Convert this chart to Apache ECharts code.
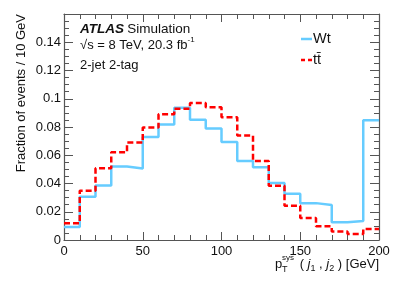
<!DOCTYPE html>
<html>
<head>
<meta charset="utf-8">
<script src="https://cdn.jsdelivr.net/npm/echarts@6/dist/echarts.min.js"></script>
<style>
html,body{margin:0;padding:0;background:#fff;}
#chart{width:399px;height:286px;}
</style>
</head>
<body>
<div id="chart"></div>
<script>
// Bin edges (GeV)
var binEdges = [0,10,20,30,40,50,60,70,80,90,100,110,120,130,140,150,160,170,180,190,200];
// Fraction of events per bin
var wtValues = [0.0092,0.0306,0.0386,0.0520,0.0506,0.0730,0.0817,0.0937,0.0852,0.0789,0.0694,0.0560,0.0515,0.0403,0.0327,0.0261,0.0247,0.0125,0.0134,0.0847];
var ttValues = [0.0119,0.0348,0.0508,0.0621,0.0690,0.0796,0.0890,0.0930,0.0970,0.0940,0.0869,0.0739,0.0560,0.0384,0.0242,0.0155,0.0097,0.0061,0.0042,0.0078];
var seriesNames = ['Wt', 't\u0074\u0304'];
var xTicks = [0,50,100,150,200];
var yTicks = [0,0.02,0.04,0.06,0.08,0.1,0.12,0.14];

function stepData(vals){
  var d = [];
  for (var i = 0; i < vals.length; i++) d.push([binEdges[i], vals[i]]);
  d.push([binEdges[binEdges.length-1], vals[vals.length-1]]);
  return d;
}

var FONT = 'Liberation Sans, Arial, Helvetica, sans-serif';
var axisCol = '#555';
var WT_COL = '#66ccff', TT_COL = '#ff0000';
var chart = echarts.init(document.getElementById('chart'), null, {renderer:'canvas'});

function frameAxis(pos, isX){
  return {
    type:'value', position:pos, min:0, max: isX?200:0.16,
    interval: isX?50:0.02,
    axisLine:{show:true, onZero:false, lineStyle:{color:axisCol, width:1.2}},
    axisTick:{show:true, inside:true, length: isX?8:9, lineStyle:{color:axisCol, width:1}},
    minorTick:{show:true, splitNumber: isX?5:4, length:5, lineStyle:{color:axisCol, width:1}},
    axisLabel:{show:false},
    splitLine:{show:false}
  };
}

var option = {
  backgroundColor:'#fff',
  animation:false,
  grid:{left:64, right:20, top:14, bottom:46},
  xAxis:[
    {
      type:'value', min:0, max:200, interval:50, position:'bottom',
      axisLine:{show:true, onZero:false, lineStyle:{color:axisCol, width:1.2}},
      axisTick:{show:true, inside:true, length:8, lineStyle:{color:axisCol, width:1}},
      minorTick:{show:true, splitNumber:5, length:5, lineStyle:{color:axisCol, width:1}},
      axisLabel:{show:true, margin:5, color:'#111', fontSize:13, fontFamily:FONT,
        formatter:function(v){ return xTicks.indexOf(v) >= 0 ? String(v) : ''; }},
      splitLine:{show:false}
    },
    frameAxis('top', true)
  ],
  yAxis:[
    {
      type:'value', min:0, max:0.16, interval:0.02, position:'left',
      axisLine:{show:true, onZero:false, lineStyle:{color:axisCol, width:1.2}},
      axisTick:{show:true, inside:true, length:9, lineStyle:{color:axisCol, width:1}},
      minorTick:{show:true, splitNumber:4, length:5, lineStyle:{color:axisCol, width:1}},
      axisLabel:{show:true, margin:3, color:'#111', fontSize:13, fontFamily:FONT, showMaxLabel:false,
        formatter:function(v){
          for (var i=0;i<yTicks.length;i++){ if (Math.abs(yTicks[i]-v) < 1e-9) return String(yTicks[i]); }
          return '';
        }},
      splitLine:{show:false}
    },
    frameAxis('right', false)
  ],
  series:[
    {
      name:seriesNames[1], type:'line', step:'end', symbol:'none', xAxisIndex:0, yAxisIndex:0,
      data: stepData(ttValues),
      lineStyle:{color:TT_COL, width:2.5, type:[6,3]},
      itemStyle:{color:TT_COL}, z:3
    },
    {
      name:seriesNames[0], type:'line', step:'end', symbol:'none', xAxisIndex:0, yAxisIndex:0,
      data: stepData(wtValues),
      lineStyle:{color:WT_COL, width:2.5},
      itemStyle:{color:WT_COL}, z:2
    }
  ],
  graphic:[
    // legend
    {type:'line', shape:{x1:301, y1:39, x2:312, y2:39}, style:{stroke:WT_COL, lineWidth:2.5}},
    {type:'text', x:313, y:39, style:{text:seriesNames[0], align:'left', verticalAlign:'middle', font:'14.5px '+FONT, fill:'#111'}},
    {type:'line', shape:{x1:301, y1:60, x2:312, y2:60}, style:{stroke:TT_COL, lineWidth:2.5, lineDash:[4,3]}},
    {type:'text', x:313, y:60, style:{text:seriesNames[1], align:'left', verticalAlign:'middle', font:'14.5px '+FONT, fill:'#111'}},
    // labels
    {type:'text', x:80, y:29, style:{
      text:'{a|ATLAS} {b|Simulation}', verticalAlign:'middle', align:'left',
      rich:{a:{fontSize:13.5, fontWeight:'bold', fontStyle:'italic', fontFamily:FONT, fill:'#111'},
            b:{fontSize:13.5, fontFamily:FONT, fill:'#111'}}}},
    {type:'text', x:80, y:45, style:{
      text:'\u221As = 8 TeV, 20.3 fb{s|-1}', verticalAlign:'middle', align:'left',
      font:'13px '+FONT, fill:'#111',
      rich:{s:{fontSize:8, verticalAlign:'top', lineHeight:18, fontFamily:FONT, fill:'#111'}}}},
    {type:'text', x:80, y:65, style:{
      text:'2-jet 2-tag', verticalAlign:'middle', align:'left', font:'13px '+FONT, fill:'#111'}},
    {type:'text', x:21, y:14, rotation:Math.PI/2, style:{
      text:'Fraction of events / 10 GeV', align:'right', verticalAlign:'middle', font:'13px '+FONT, fill:'#111'}},
    // x axis title
    {type:'text', x:275, y:264, style:{text:'p', align:'left', verticalAlign:'middle', font:'13px '+FONT, fill:'#111'}},
    {type:'text', x:282, y:258, style:{text:'sys', align:'left', verticalAlign:'middle', font:'8px '+FONT, fill:'#111'}},
    {type:'text', x:282, y:270, style:{text:'T', align:'left', verticalAlign:'middle', font:'9px '+FONT, fill:'#111'}},
    {type:'text', x:379, y:264, style:{
      text:'( {i|j}{s|1} , {i|j}{s|2} ) [GeV]', align:'right', verticalAlign:'middle',
      font:'13px '+FONT, fill:'#111',
      rich:{i:{fontSize:13, fontStyle:'italic', fontFamily:FONT, fill:'#111'},
            s:{fontSize:9, verticalAlign:'bottom', lineHeight:19, fontFamily:FONT, fill:'#111'}}}}
  ]
};
chart.setOption(option);
</script>
</body>
</html>
